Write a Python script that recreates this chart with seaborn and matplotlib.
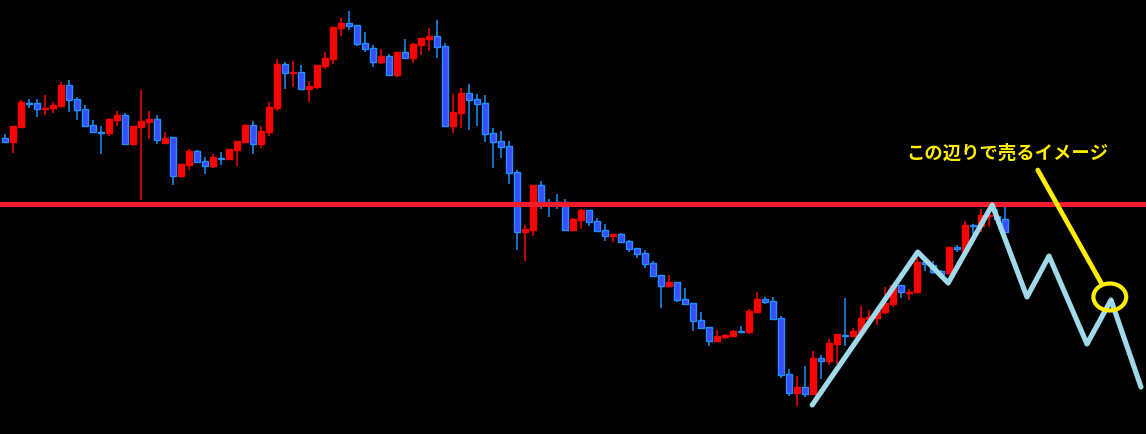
import numpy as np
import pandas as pd
import matplotlib
matplotlib.use("Agg")
import matplotlib.pyplot as plt
from matplotlib.patches import Ellipse
import seaborn as sns

sns.set_style("dark")
plt.rcParams["font.family"] = ["Noto Sans CJK JP", "DejaVu Sans"]

# candle levels (screen units, smaller = higher price)
opens = [139, 143, 128, 103.5, 104, 109.5, 109, 107, 86, 100, 110, 126, 132.5, 134, 121, 116,
         145, 128, 123, 120, 144, 138, 177, 166, 152, 162, 167, 158.5, 160, 151, 143, 126,
         145, 133, 109, 65, 73.5, 73, 90, 88, 67, 60, 29, 24, 26, 44, 49, 63, 57, 76,
         53, 59, 46, 40, 37, 47, 127, 114, 94, 100, 104, 134, 142, 147, 173, 233, 231, 186,
         203, 203, 203, 231, 221, 211, 222, 231, 237, 235, 242, 249, 254, 264, 276, 287, 283, 300,
         304, 321, 328, 342, 338, 337, 331.5, 333, 313, 300, 302, 319, 375, 394, 388, 395, 359, 362,
         345, 335.5, 337, 333, 320, 319, 313, 305, 286, 293.5, 293, 263, 266, 272, 274, 248,
         252, 225.5, 227, 216.5, 217, 220]
highs = [135, 127, 101, 100, 100, 96, 103, 83, 81, 98, 106, 121, 127, 119, 112, 114,
         127, 91, 112, 116, 133, 138, 165, 150, 151, 158, 155, 153, 150, 142, 125, 122,
         127, 103, 60, 63, 62, 66, 82, 66, 53, 28, 19, 12, 26, 33, 46, 50, 55, 53,
         40, 44, 39, 29, 21, 44, 95, 89, 85, 95, 96, 129, 132, 142, 171, 226, 186, 182,
         200, 195, 200, 219, 210, 211, 219, 225, 235, 234, 241, 249, 251, 262, 276, 276, 283, 289,
         304, 313, 328, 331, 335, 331, 327, 310, 293, 298, 298, 317, 370, 377, 367, 352, 356, 340,
         335, 299, 329, 307, 311, 312, 288, 286, 286, 290, 258, 261, 262, 271, 248, 246,
         222, 225, 210, 207, 210, 208]
lows = [143, 154, 129, 109, 118, 116, 114, 107, 113, 121, 128, 134, 155, 137, 127, 145,
        145, 201, 140, 145, 144, 186, 178, 171, 163, 175, 169, 166, 160, 167, 143, 155,
        149, 137, 112, 90, 88, 90, 103, 90, 70, 65, 37, 31, 47, 53, 68, 65, 76, 78,
        59, 64, 56, 52, 59, 128, 134, 129, 131, 127, 143, 169, 159, 185, 251, 262, 237, 210,
        218, 210, 232, 232, 230, 227, 232, 242, 243, 243, 253, 259, 269, 277, 309, 288, 303, 305,
        332, 329, 347, 343, 340, 337, 332.5, 335, 313, 305, 320, 379, 397, 407, 398, 395, 380, 366,
        365, 347, 337, 333, 320, 326, 315, 308, 299, 301, 293, 272, 275, 275, 274, 253,
        252, 235, 233, 228, 220, 233]
closes = [143, 127, 103, 104.5, 110, 109, 106, 86, 101, 111, 127, 133, 133.5, 120, 116, 145,
          127, 122, 120, 141, 139, 177, 165, 152, 163, 167, 158, 159.5, 150, 142, 126, 145,
          132, 108, 65, 74, 73, 90, 87, 66, 59, 28, 24, 27, 45, 50, 63, 57, 76, 53,
          59, 45, 39, 37, 48, 127, 113, 94, 101, 105, 135, 143, 148, 174, 233, 230, 186, 203,
          205, 205, 231, 220, 211, 223, 232, 237, 235, 243, 250, 255, 265, 277, 287, 283, 301, 305,
          322, 329, 342, 337, 336, 332, 332.5, 312, 300, 303, 320, 376, 394, 388, 395, 359, 362, 344,
          335, 336.5, 332, 319, 318, 312, 304, 286, 293, 293, 263, 265, 273, 275, 248, 250,
          226, 226.5, 216, 216, 220, 233]

resistance = 204.5

# the hand-drawn zigzag (bar index, level)
zig_x = [100.9, 114.1, 117.9, 123.4, 127.75, 130.5, 135.25, 138.25, 142.0]
zig_y = [406, 253, 284, 206, 298, 257, 345, 301, 388]

label = "この辺りで売るイメージ"

df = pd.DataFrame({"open": opens, "high": highs, "low": lows, "close": closes})
df["bar"] = np.arange(len(df))
df["up"] = df["close"] < df["open"]

fig = plt.figure(figsize=(11.46, 4.35), dpi=100, facecolor="black")
ax = fig.add_axes([0, 0, 1, 1])
ax.set_facecolor("black")

red = "#ff0000"
blue_fill = "#3a4cff"
blue_edge = "#1e90ff"

wick_cols = [red if u else blue_edge for u in df["up"]]
ax.vlines(df["bar"], df["high"], df["low"], colors=wick_cols, lw=1.1, zorder=2)

body_h = (df["close"] - df["open"]).abs().clip(lower=1.0)
body_b = df[["open", "close"]].min(axis=1)
ax.bar(df["bar"], body_h, bottom=body_b, width=0.65,
       color=[red if u else blue_fill for u in df["up"]],
       edgecolor=[red if u else blue_edge for u in df["up"]], linewidth=1.0, zorder=3)

ax.axhline(resistance, color="#f01e2c", lw=3.7, zorder=4)

zz = pd.DataFrame({"x": zig_x, "y": zig_y})
sns.lineplot(data=zz, x="x", y="y", ax=ax, color="#9fd9ea", lw=3.7, sort=False, zorder=5)

ax.plot([129.1, 137.1], [171, 285], color="#ffee00", lw=3.4, zorder=6, solid_capstyle="round")
ax.add_patch(Ellipse((138.1, 298), 4.1, 27, fill=False, edgecolor="#ffee00", lw=3.0, zorder=6))
ax.text(125.3, 153, label, color="#ffee00", fontsize=13.2, fontweight="bold",
        ha="center", va="center", zorder=7)

ax.set_xlim(-0.625, 142.625)
ax.set_ylim(435, 0)
ax.set_xticks([])
ax.set_yticks([])
ax.set_xlabel("")
ax.set_ylabel("")
ax.grid(False)
for s in ax.spines.values():
    s.set_visible(False)

fig.savefig("out.png", dpi=100, facecolor="black")
